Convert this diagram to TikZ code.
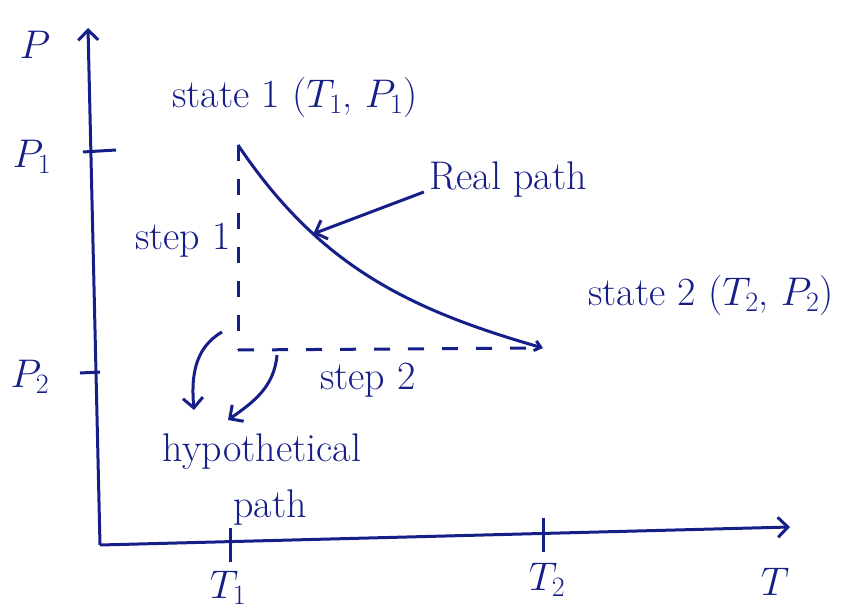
\documentclass[tikz,border=0pt]{standalone}
\usepackage{fix-cm}
\usepackage{fontspec}
\usepackage{tikz}
\usetikzlibrary{arrows.meta}
\definecolor{ink}{RGB}{22,30,135}

\begin{document}
\begin{tikzpicture}[x=1pt,y=-1pt,>={Straight Barb[length=10pt,width=20pt]},
  line width=3pt,draw=ink,text=ink,font=\fontsize{40}{44}\selectfont]
\tikzstyle{lbl}=[inner sep=0pt]
\tikzstyle{hand}=[dash pattern=on 16pt off 18pt]
\useasboundingbox (0,0) rectangle (856,610);
% axes
\coordinate (O) at (100,545);
\coordinate (ytip) at (88,28);
\coordinate (xtip) at (790,527);
\draw[->] (O) -- (ytip);
\draw[->] (O) -- (xtip);
\node[lbl] (P) at (35,45) {$P$};
\node[lbl] (T) at (775,582) {$T$};
% ticks
\coordinate (p1a) at (83,152); \coordinate (p1b) at (116,150);
\coordinate (p2a) at (80,373); \coordinate (p2b) at (100,372);
\coordinate (t1a) at (230,528); \coordinate (t1b) at (230,562);
\coordinate (t2a) at (543,518); \coordinate (t2b) at (543,552);
\draw (p1a) -- (p1b);
\draw (p2a) -- (p2b);
\draw (t1a) -- (t1b);
\draw (t2a) -- (t2b);
\node[lbl] (P1) at (32,157) {$P_1$};
\node[lbl] (P2) at (30,377) {$P_2$};
\node[lbl] (T1) at (228,588) {$T_1$};
\node[lbl] (T2) at (547,580) {$T_2$};
% states
\coordinate (s1) at (238,145);
\coordinate (s2) at (543,348);
\coordinate (mid) at (238,350);
\node[lbl] (st1) at (295,98) {state 1 ($T_1$, $P_1$)};
\node[lbl] (st2) at (711,296) {state 2 ($T_2$, $P_2$)};
% real path
\draw[->,>={Straight Barb[length=6pt,width=10pt]}] (s1) to[out=-56,in=164] coordinate[pos=0.3] (rp) (s2);
\node[lbl] (real) at (508,180) {Real path};
\draw[->] (real.west) ++(-4,12) coordinate (rs) (rs) -- (rp);
% hypothetical path
\draw[hand] (s1) -- (mid);
\draw[hand] (mid) -- (s2);
\node[lbl] (step1) at (183,240) {step 1};
\node[lbl] (step2) at (368,380) {step 2};
\node[lbl] (hyp) at (262,452) {hypothetical};
\node[lbl] (path) at (270,508) {path};
\coordinate (h1a) at (222,332); \coordinate (h1b) at (194,410);
\coordinate (h2a) at (277,355); \coordinate (h2b) at (228,420);
\draw[->] (h1a) to[out=210,in=95] (h1b);
\draw[->] (h2a) to[out=-95,in=35] (h2b);
\end{tikzpicture}
\end{document}
